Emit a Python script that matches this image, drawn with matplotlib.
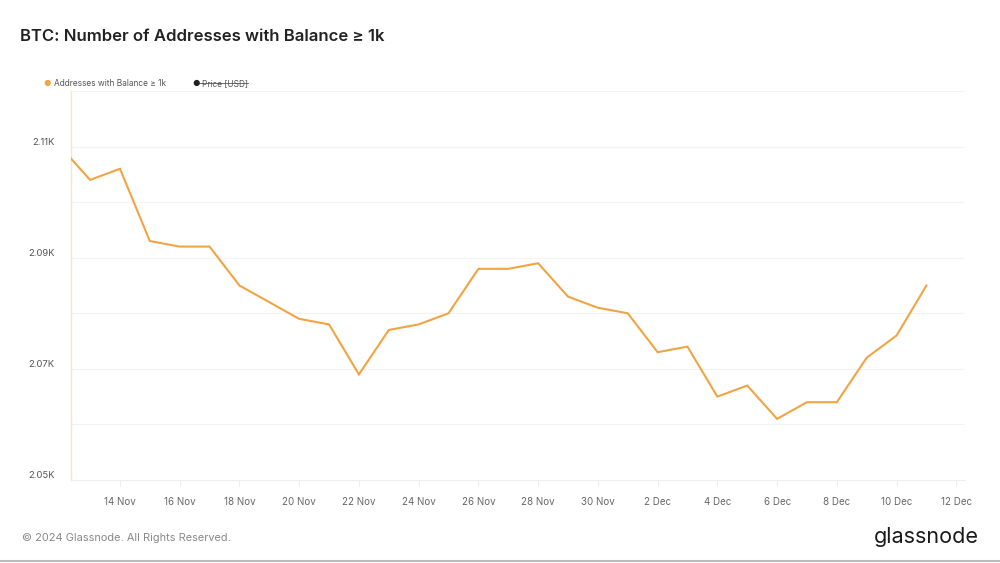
import numpy as np
import pandas as pd
import matplotlib
matplotlib.use('Agg')
import matplotlib.pyplot as plt
import matplotlib.dates as mdates
from matplotlib.lines import Line2D

plt.rcParams['font.family'] = ['Inter', 'DejaVu Sans']

# data (daily values)
dates = pd.date_range('2024-11-12', '2024-12-11', freq='D')
addresses = [2110, 2104, 2106, 2093, 2092, 2092, 2085, 2082, 2079, 2078,
             2069, 2077, 2078, 2080, 2088, 2088, 2089, 2083, 2081, 2080,
             2073, 2074, 2065, 2067, 2061, 2064, 2064, 2072, 2076, 2085]
tick_dates = pd.date_range('2024-11-14', '2024-12-12', freq='2D')
ytick_vals = [2050, 2070, 2090, 2110]
ytick_labels = ['2.05K', '2.07K', '2.09K', '2.11K']

orange = '#F2A443'
fig = plt.figure(figsize=(10, 5.63), dpi=100)
ax = fig.add_axes([0.071, 0.1474, 0.894, 0.691])

ax.plot(dates, addresses, color=orange, lw=1.5, solid_joinstyle='miter', zorder=3)

ax.set_xlim(pd.Timestamp('2024-11-12 08:40'), pd.Timestamp('2024-12-12 07:00'))
ax.set_ylim(2050, 2120)
ax.set_yticks(ytick_vals)
ax.set_yticklabels(ytick_labels)
for v in np.arange(2060, 2121, 10):
    ax.axhline(v, color='#f3f3f3', lw=0.8, zorder=1)

ax.set_xticks(tick_dates)
ax.set_xticklabels([f"{d.day} {d.strftime('%b')}" for d in tick_dates])

for s in ['top', 'right']:
    ax.spines[s].set_visible(False)
ax.spines['left'].set_color('#fbe3c4')
ax.spines['left'].set_linewidth(1.0)
ax.spines['bottom'].set_color('#eeeeee')
ax.spines['bottom'].set_linewidth(0.8)
ax.tick_params(axis='y', length=0, pad=12, labelsize=6.8, labelcolor='#555555')
ax.tick_params(axis='x', length=4, color='#eeeeee', pad=8, labelsize=7, labelcolor='#666666')
for lab in ax.get_yticklabels():
    lab.set_verticalalignment('bottom')

# title
fig.text(0.020, 0.935, 'BTC: Number of Addresses with Balance \u2265 1k', fontsize=12,
         fontweight='semibold', color='#222222', va='center')

# legend
fig.text(0.047, 0.852, '\u25CF', fontsize=6, color=orange, va='center', ha='center')
fig.text(0.054, 0.852, 'Addresses with Balance \u2265 1k', fontsize=6, color='#555555', va='center')
fig.text(0.196, 0.852, '\u25CF', fontsize=6, color='#222222', va='center', ha='center')
ptxt = fig.text(0.202, 0.852, 'Price [USD]', fontsize=6, color='#555555', va='center')

# footer
fig.text(0.022, 0.044, '\u00A9 2024 Glassnode. All Rights Reserved.', fontsize=7.9,
         color='#888888', va='center')
fig.text(0.979, 0.046, 'glassnode', fontsize=15.5, color='#1a1a1a', va='center', ha='right')
fig.add_artist(Line2D([0, 1], [0.003, 0.003], transform=fig.transFigure, color='#bbbbbb', lw=1.5))

# strike-through on Price legend entry
fig.canvas.draw()
bb = ptxt.get_window_extent().transformed(fig.transFigure.inverted())
ym = (bb.y0 + bb.y1) / 2
fig.add_artist(Line2D([bb.x0 - 0.008, bb.x1], [ym, ym], transform=fig.transFigure,
                      color='#555555', lw=0.6))

fig.savefig('out.png', dpi=100)
